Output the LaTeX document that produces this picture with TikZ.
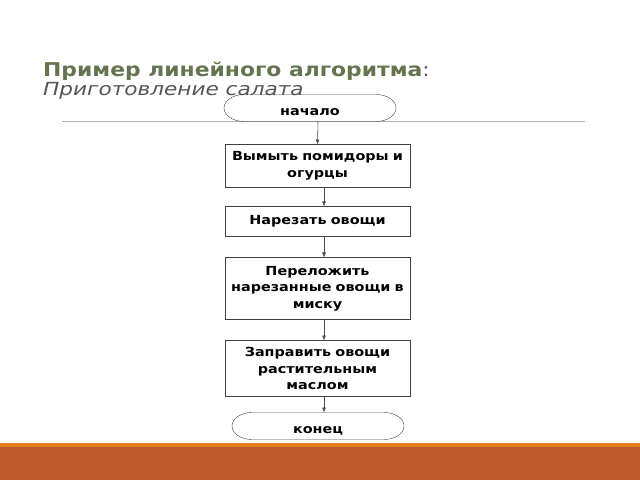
\documentclass[tikz,border=0pt]{standalone}
\usepackage{fontspec}
\setmainfont{DejaVu Sans}[FakeStretch=1.15]
\newfontfamily\subtitlefont{DejaVu Sans}[FakeStretch=1.2]
\usetikzlibrary{arrows.meta,positioning}
\definecolor{titleGreen}{HTML}{64744F}
\definecolor{titleGray}{HTML}{555555}
\definecolor{ruleGray}{HTML}{B4B4B4}
\definecolor{barOrange}{HTML}{E2801F}
\definecolor{barBrown}{HTML}{BD5A2D}

\begin{document}
\begin{tikzpicture}[x=1pt,y=1pt,
node distance=20pt and 10pt,
every node/.style={font=\fontsize{12.5}{16.5}\selectfont\bfseries},
term/.style={minimum width=172pt, minimum height=27pt, inner sep=0pt, outer sep=0pt, text height=15pt, text depth=0pt},
stepbox/.style={draw=black!75, align=center, text width=177pt, inner xsep=4pt, inner ysep=3pt, outer sep=0pt},
arr/.style={-{Latex[length=5pt,width=4pt]}, draw=black!70, semithick}
]
\useasboundingbox (0,0) rectangle (640,480);
% bottom bar
\fill[barBrown] (0,0) rectangle (640,33);
\fill[barOrange] (0,33) rectangle (640,37);
% title
\node[anchor=base west, inner sep=0pt, font=\fontsize{19}{22}\selectfont] (T1) at (43,403) {\textcolor{titleGreen}{\bfseries Пример линейного алгоритма}\textcolor{titleGray}{\mdseries:}};
\node[anchor=base west, inner sep=0pt, font=\fontsize{18}{22}\selectfont\subtitlefont\mdseries\itshape, text=titleGray] (T2) at (43,384) {Приготовление салата};
\draw[ruleGray, thick] (62,359) -- (585,359);

% flowchart
\node[term] (start) at (310,372) {начало};
\node[stepbox, below=23pt of start, xshift=7.5pt, minimum height=43pt] (B1) {Вымыть помидоры и\\огурцы};
\node[stepbox, below=19pt of B1, minimum height=30pt] (B2) {Нарезать овощи};
\node[stepbox, below=21pt of B2, minimum height=62pt] (B3) {Переложить\\нарезанные овощи в\\миску};
\node[stepbox, below=21pt of B3, minimum height=56pt] (B4) {Заправить овощи\\растительным\\маслом};
\node[term, below=16pt of B4, xshift=0.5pt] (stop) {конец};

% terminator outlines with elliptic ends
\foreach \n in {start,stop}
  \draw[black!75] ([xshift=20pt]\n.north west) -- ([xshift=-20pt]\n.north east)
    arc[start angle=90, end angle=-90, x radius=20pt, y radius=13.5pt]
    -- ([xshift=20pt]\n.south west)
    arc[start angle=270, end angle=90, x radius=20pt, y radius=13.5pt] -- cycle;

\draw[arr] ([xshift=8pt]start.south) -- (B1.north);
\draw[arr] ([xshift=6.5pt]B1.south) -- ([xshift=6.5pt]B2.north);
\draw[arr] ([xshift=6.5pt]B2.south) -- ([xshift=6.5pt]B3.north);
\draw[arr] ([xshift=6.5pt]B3.south) -- ([xshift=6.5pt]B4.north);
\draw[arr] ([xshift=6.5pt]B4.south) -- ([xshift=6pt]stop.north);
\end{tikzpicture}
\end{document}
